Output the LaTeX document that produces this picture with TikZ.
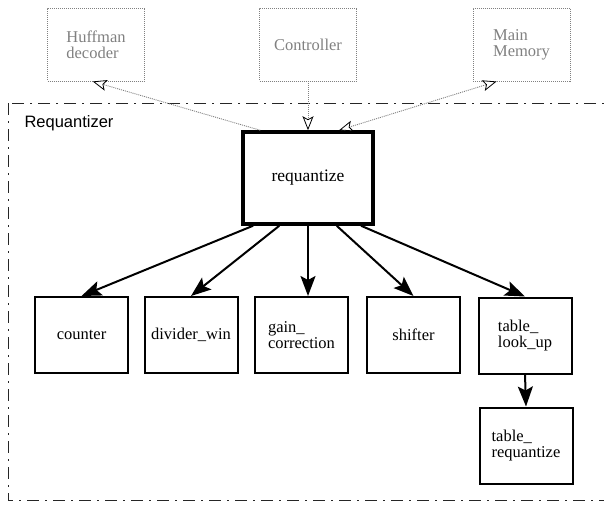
\documentclass[tikz,border=0pt]{standalone}
\usepackage{fontspec}
\setmainfont{Liberation Serif}
\setsansfont{Liberation Sans}
\usetikzlibrary{arrows.meta}

\definecolor{extgray}{RGB}{128,128,128}

\tikzset{
  extbox/.style={draw=extgray, line width=0.9pt, dash pattern=on 1pt off 1pt,
    minimum width=97pt, minimum height=73pt, inner sep=0pt,
    text=extgray, font=\fontsize{16.5}{16}\selectfont, align=left},
  topbox/.style={draw, line width=3.5pt, minimum width=130pt, minimum height=92pt,
    inner sep=0pt, font=\fontsize{17.5}{17}\selectfont},
  unitbox/.style={draw, line width=2pt, minimum width=93pt, minimum height=76pt,
    inner sep=0pt, font=\fontsize{16.5}{16}\selectfont, align=left},
  callarrow/.style={draw, line width=2pt,
    -{Stealth[length=20pt, width=15pt, inset=4pt]}},
  extlink/.style={draw=extgray, line width=0.9pt, dash pattern=on 1pt off 1pt},
  opentip/.tip={Stealth[length=14pt, width=11pt, inset=3pt, line width=0.8pt,
    color=black, fill=white]},
  groupframe/.style={draw=black!85, line width=0.9pt,
    dash pattern=on 12pt off 6pt on 2pt off 6pt},
}

\begin{document}
\begin{tikzpicture}[x=1pt, y=-1pt]
  \useasboundingbox (0,0) rectangle (604,504);
  \clip (0,0) rectangle (604,504);

  % frame of the Requantizer group
  \draw[groupframe] (8,103) rectangle (620,500);
  \node[anchor=base west, font=\sffamily\fontsize{16.5}{16}\selectfont] (grp)
    at (21,127) {Requantizer};

  % external blocks
  \node[extbox] (hd)  at (96,44.5)    {Huffman\\decoder};
  \node[extbox] (ctl) at (308,44.5)   {Controller};
  \node[extbox] (mm)  at (521.5,44.5) {Main\\Memory};

  % main module
  \node[topbox] (req) at (308,178) {requantize};

  % sub-modules
  \node[unitbox] (cnt) at (81.5,335)  {counter};
  \node[unitbox] (div) at (191,335)   {divider\_win};
  \node[unitbox] (gan) at (301.5,335) {gain\_\\correction};
  \node[unitbox] (shf) at (413.5,335) {shifter};
  \node[unitbox] (tlu) at (525,335.5) {table\_\\look\_up};
  \node[unitbox] (trq) at (526,445.5) {table\_\\requantize};

  % links to the external blocks
  \path[extlink, -{opentip}] (req.135) -- (hd.265);
  \path[extlink, -{opentip}] (ctl.south) -- (req.north);
  \path[extlink, {opentip}-{opentip}] (req.57) -- (mm.236);

  % calls
  \path[callarrow] (req.221) -- (cnt.north);
  \path[callarrow] (req.239) -- (div.north);
  \path[callarrow] (req.270) -- (gan.north -| req.270);
  \path[callarrow] (req.301) -- (shf.north);
  \path[callarrow] (req.318) -- (tlu.north);
  \path[callarrow] (tlu.south) -- (trq.north);
\end{tikzpicture}
\end{document}
